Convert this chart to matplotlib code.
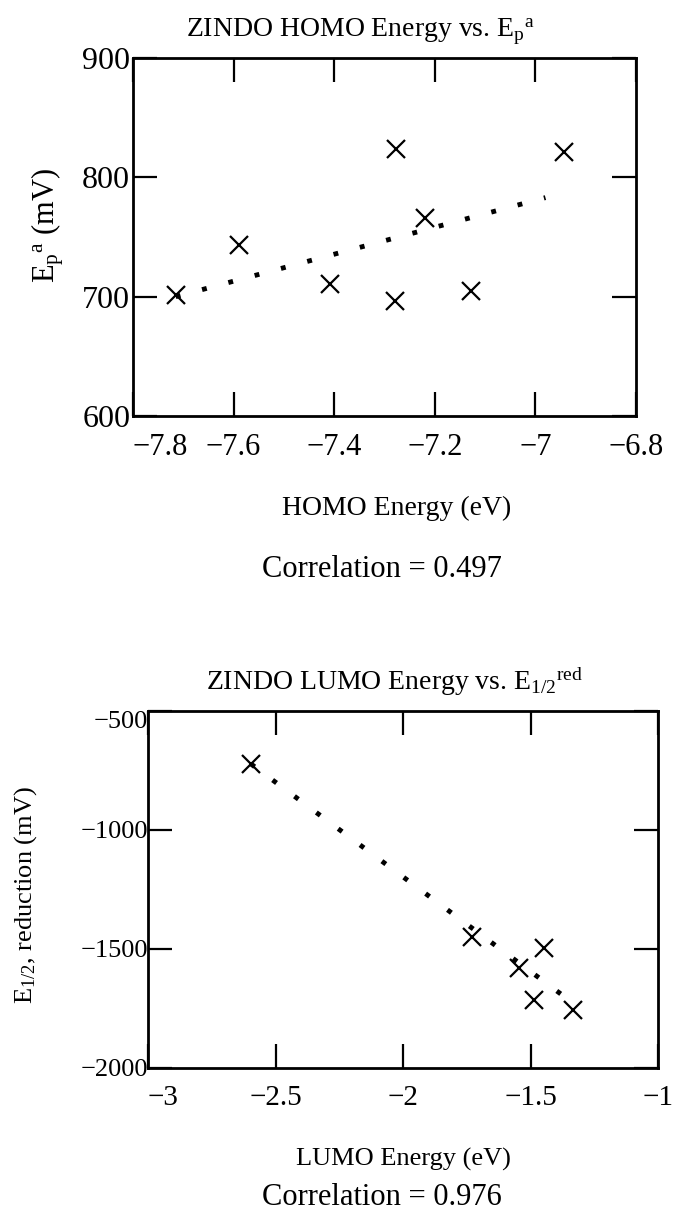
import numpy as np
import matplotlib
matplotlib.use("Agg")
import matplotlib.pyplot as plt

plt.rcParams['font.family'] = ['Liberation Serif', 'DejaVu Serif']
plt.rcParams['mathtext.fontset'] = 'custom'
plt.rcParams['mathtext.rm'] = 'Liberation Serif'
plt.rcParams['mathtext.it'] = 'Liberation Serif:italic'

# data
homo_x = [-7.715, -7.59, -7.409, -7.278, -7.28, -7.220, -7.128, -6.944]
homo_y = [701, 743, 711, 824, 696, 766, 705, 821]
homo_fit_x = [-7.715, -6.98]
homo_fit_y = [700, 783]

lumo_x = [-2.597, -1.729, -1.446, -1.547, -1.488, -1.333]
lumo_y = [-722, -1448, -1497, -1581, -1714, -1756]
lumo_fit_x = [-2.597, -1.376]
lumo_fit_y = [-722, -1693]

homo_xticks = [-7.8, -7.6, -7.4, -7.2, -7.0, -6.8]
homo_xlabels = ['\u22127.8', '\u22127.6', '\u22127.4', '\u22127.2', '\u22127', '\u22126.8']
homo_yticks = [600, 700, 800, 900]

lumo_xticks = [-3, -2.5, -2, -1.5, -1]
lumo_xlabels = ['\u22123', '\u22122.5', '\u22122', '\u22121.5', '\u22121']
lumo_yticks = [-2000, -1500, -1000, -500]
lumo_ylabels = ['\u22122000', '\u22121500', '\u22121000', '\u2212500']

W, H = 673, 1214
fig = plt.figure(figsize=(W / 100, H / 100), dpi=100)


def px_axes(l, t, r, b):
    return fig.add_axes([l / W, 1 - b / H, (r - l) / W, (b - t) / H])


def px_text(x, y, s, size, **kw):
    fig.text(x / W, 1 - y / H, s, fontsize=size, ha='center', va='baseline', **kw)


def style(ax, xsize, ysize):
    for sp in ax.spines.values():
        sp.set_linewidth(2.0)
    ax.tick_params(direction='in', length=17, width=1.6, top=True, right=True,
                   labelsize=xsize, pad=12)
    ax.tick_params(axis='y', labelsize=ysize, pad=2)


def scatter_fit(ax, x, y, fx, fy):
    ax.plot(fx, fy, color='black', lw=3.5, linestyle=(0, (1, 4.6)),
            dash_capstyle='butt')
    ax.plot(x, y, linestyle='none', marker='x', ms=13, mew=1.6, color='black')


# top panel
ax1 = px_axes(133, 58, 636, 416)
scatter_fit(ax1, homo_x, homo_y, homo_fit_x, homo_fit_y)
ax1.set_xlim(-7.8, -6.8)
ax1.set_ylim(600, 900)
ax1.set_xticks(homo_xticks)
ax1.set_xticklabels(homo_xlabels)
ax1.set_yticks(homo_yticks)
style(ax1, 22, 23)
ax1.get_xticklabels()[0].set_ha('left')

px_text(360, 36, r'ZINDO HOMO Energy vs. E$_\mathrm{p}{}^\mathrm{a}$', 20)
fig.text(48 / W, 1 - 225 / H, r'E$_\mathrm{p}{}^\mathrm{a}$ (mV)', fontsize=22,
         rotation=90, ha='center', va='center')
px_text(397, 515, 'HOMO Energy (eV)', 20)
px_text(382, 577, 'Correlation = 0.497', 22)

# bottom panel
ax2 = px_axes(148, 711, 658, 1068)
scatter_fit(ax2, lumo_x, lumo_y, lumo_fit_x, lumo_fit_y)
ax2.set_xlim(-3, -1)
ax2.set_ylim(-2000, -500)
ax2.set_xticks(lumo_xticks)
ax2.set_xticklabels(lumo_xlabels)
ax2.set_yticks(lumo_yticks)
ax2.set_yticklabels(lumo_ylabels)
style(ax2, 21, 19)
ax2.tick_params(axis='y', pad=0)
ax2.get_xticklabels()[0].set_ha('left')
ax2.get_yticklabels()[-1].set_va('top')

px_text(395, 690, r'ZINDO LUMO Energy vs. E$_\mathrm{1/2}{}^\mathrm{red}$', 20)
fig.text(26 / W, 1 - 895 / H, r'E$_\mathrm{1/2}$, reduction (mV)', fontsize=19,
         rotation=90, ha='center', va='center')
px_text(403, 1166, 'LUMO Energy (eV)', 19)
px_text(382, 1205, 'Correlation = 0.976', 22)

fig.savefig('out.png', dpi=100)
